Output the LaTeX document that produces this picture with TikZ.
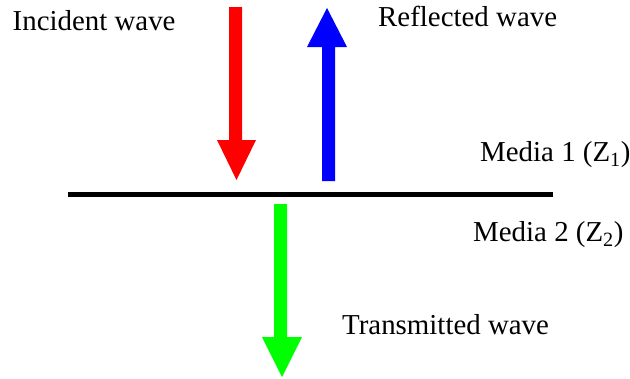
\documentclass[tikz,border=0pt]{standalone}
\usepackage{fontspec}
\setmainfont{Liberation Serif}
\begin{document}
\begin{tikzpicture}[x=1bp,y=-1bp,
  lbl/.style={anchor=base west,inner sep=0pt,font=\fontsize{29}{34}\selectfont}]
\useasboundingbox (0,0) rectangle (630,378);
% incident (red, down)
\fill[red] (229,7) -- (242,7) -- (242,140) -- (256,140) -- (236.5,180) -- (217,140) -- (229,140) -- cycle;
% reflected (blue, up)
\fill[blue] (322,181) -- (335,181) -- (335,47) -- (347,47) -- (327,8) -- (307,47) -- (322,47) -- cycle;
% interface
\coordinate (L) at (68,194.5);
\coordinate (R) at (553,194.5);
\draw[line width=5bp] (L) -- (R);
% transmitted (green, down)
\fill[green] (274,204) -- (287,204) -- (287,337) -- (302,337) -- (282,377) -- (262,337) -- (274,337) -- cycle;
\node[lbl] (inc) at (12.5,30) {Incident wave};
\node[lbl] (ref) at (378,26) {Reflected wave};
\node[lbl] (m1) at (480,161.5) {Media 1 (Z\textsubscript{1})};
\node[lbl] (m2) at (473,241.5) {Media 2 (Z\textsubscript{2})};
\node[lbl] (tr) at (342,334) {Transmitted wave};
\end{tikzpicture}
\end{document}
